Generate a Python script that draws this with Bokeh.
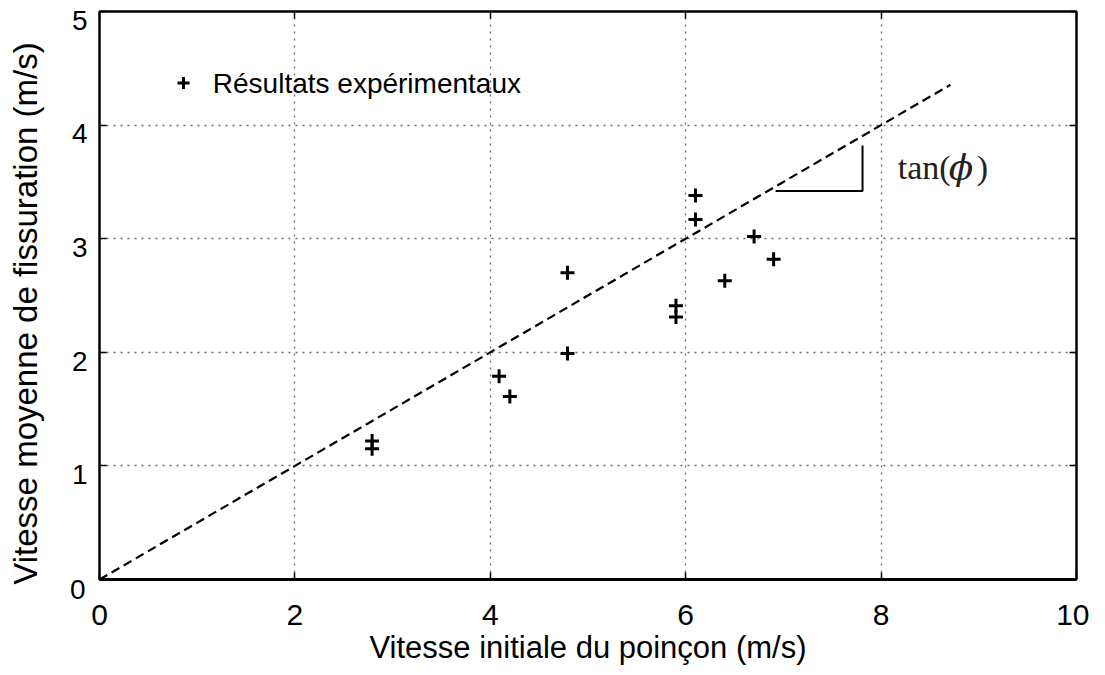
import math
from bokeh.plotting import figure
from bokeh.models import LinearAxis, Range1d, FixedTicker, Label
from bokeh.core.properties import value
from bokeh.embed import file_html
from bokeh.resources import INLINE

# ---- data ----
x_exp = [2.79, 2.79, 4.09, 4.20, 4.79, 4.79, 5.90, 5.90, 6.10, 6.10, 6.40, 6.70, 6.90]
y_exp = [1.22, 1.15, 1.79, 1.61, 2.70, 1.99, 2.41, 2.31, 3.38, 3.17, 2.63, 3.02, 2.82]
fit_x = [0.0, 8.71]
slope = 0.5
fit_y = [v * slope for v in fit_x]
tri_x = [6.92, 7.81, 7.81]
tri_y = [3.42, 3.42, 3.82]
x_ticks = [0, 2, 4, 6, 8, 10]
y_ticks = [0, 1, 2, 3, 4, 5]
legend_label = "Résultats expérimentaux"
x_title = "Vitesse initiale du poinçon (m/s)"
y_title = "Vitesse moyenne de fissuration (m/s)"

FONT = "Liberation Sans"

p = figure(width=1089, height=667, output_backend="svg", toolbar_location=None,
           x_range=Range1d(0, 10), y_range=Range1d(0, 5),
           min_border_left=99, min_border_right=13, min_border_top=11, min_border_bottom=87)
p.background_fill_color = "white"
p.border_fill_color = "white"
p.outline_line_color = "black"
p.outline_line_width = 2

for ax in p.xaxis:
    ax.ticker = FixedTicker(ticks=x_ticks)
    ax.major_tick_in = 7
    ax.major_tick_out = 0
    ax.minor_tick_line_color = None
    ax.axis_line_width = 3
    ax.major_tick_line_width = 1.5
    ax.major_label_text_font = FONT
    ax.major_label_text_font_size = "30px"
    ax.major_label_text_color = "black"
    ax.major_label_standoff = 25
    ax.axis_label = x_title
    ax.axis_label_text_font = FONT
    ax.axis_label_text_font_size = "31px"
    ax.axis_label_text_font_style = "normal"
    ax.axis_label_text_color = "black"
    ax.axis_label_standoff = 2
for ax in p.yaxis:
    ax.ticker = FixedTicker(ticks=y_ticks)
    ax.major_tick_in = 7
    ax.major_tick_out = 0
    ax.minor_tick_line_color = None
    ax.axis_line_width = 2
    ax.major_tick_line_width = 1.5
    ax.major_label_text_font_size = "1px"
    ax.major_label_text_color = None
    ax.major_label_standoff = 0

# y tick labels on a second axis whose range is shifted, so that each label sits
# slightly below its tick as in the reference
shift = 0.078125
p.extra_y_ranges = {"lab": Range1d(y_ticks[0] + shift, y_ticks[-1] + shift)}
lab_axis = LinearAxis(y_range_name="lab", ticker=FixedTicker(ticks=y_ticks),
                      axis_line_color=None, major_tick_line_color=None, minor_tick_line_color=None,
                      major_tick_in=0, major_tick_out=0, major_label_standoff=12,
                      major_label_text_font=FONT, major_label_text_font_size="28px",
                      major_label_text_color="black")
p.add_layout(lab_axis, "left")

# the lowest tick label lies below the frame, outside the shifted range
p.add_layout(Label(x=0, y=y_ticks[0], text=str(y_ticks[0]), x_offset=-14, y_offset=-10,
                   text_align="right", text_baseline="middle",
                   text_font=FONT, text_font_size="28px", text_color="black"), "left")

# y axis title
p.add_layout(Label(x=0, y=2.5, text=y_title, x_offset=-74, y_offset=-18, angle=math.pi / 2,
                   text_align="center", text_baseline="middle",
                   text_font=FONT, text_font_size="33px", text_color="black"), "left")

# inward ticks on top and right
top = LinearAxis(ticker=FixedTicker(ticks=x_ticks), major_tick_in=7, major_tick_out=0,
                 minor_tick_line_color=None, major_label_text_font_size="1px",
                 major_label_text_color=None, axis_line_width=2, major_tick_line_width=1.5,
                 major_label_standoff=0)
right = LinearAxis(ticker=FixedTicker(ticks=y_ticks), major_tick_in=7, major_tick_out=0,
                   minor_tick_line_color=None, major_label_text_font_size="1px",
                   major_label_text_color=None, axis_line_width=2, major_tick_line_width=1.5,
                   major_label_standoff=0)
p.add_layout(top, "above")
p.add_layout(right, "right")

p.xgrid.ticker = FixedTicker(ticks=x_ticks)
p.ygrid.ticker = FixedTicker(ticks=y_ticks)
for g in (p.xgrid, p.ygrid):
    g.grid_line_color = "#6a6a6a"
    g.grid_line_dash = "2 5"
    g.grid_line_width = 1.3

# fit line
p.line(fit_x, fit_y, line_color="black", line_width=2.2, line_dash="9 5")
# slope triangle
p.line(tri_x, tri_y, line_color="black", line_width=2)
# data points
p.scatter(x_exp, y_exp, marker="cross", size=14, line_color="black", line_width=3)

# legend (manual)
p.scatter([0.86], [4.37], marker="cross", size=12, line_color="black", line_width=3)
p.text([1.16], [4.37], text=[legend_label], text_font=value(FONT), text_font_size="28px",
       text_baseline="middle", text_align="left", text_color="black")

# tan(phi) annotation
p.text([8.17], [3.63], text=["tan("], text_font=value("Liberation Serif"), text_font_size="34px",
       text_baseline="middle", text_align="left", text_color="#222222")
p.text([8.17], [3.63], text=["ϕ"], x_offset=51, text_font=value("DejaVu Serif"), text_font_size="36px",
       text_font_style="italic", text_baseline="middle", text_align="left", text_color="#222222")
p.text([8.17], [3.63], text=[")"], x_offset=79, text_font=value("Liberation Serif"), text_font_size="34px",
       text_baseline="middle", text_align="left", text_color="#222222")

open("out.html", "w").write(file_html(p, INLINE))
